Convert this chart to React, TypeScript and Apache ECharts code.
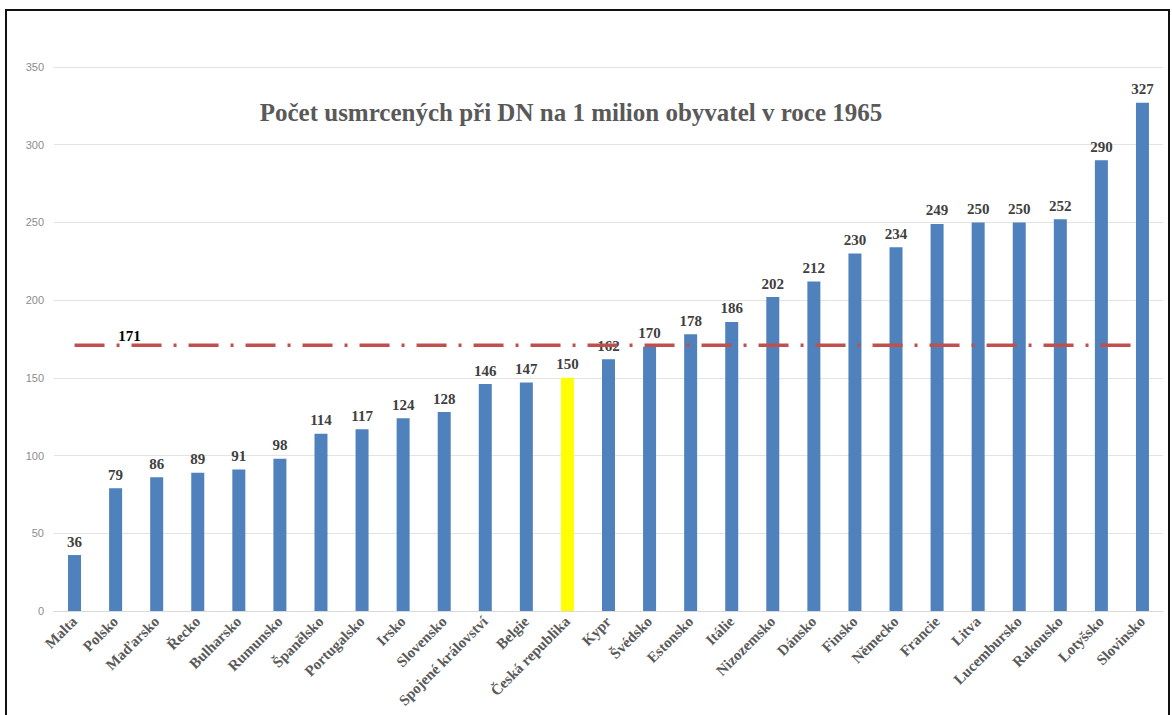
import React, { useEffect, useRef } from "react";
import * as echarts from "echarts";

const categories = [
  "Malta", "Polsko", "Maďarsko", "Řecko", "Bulharsko", "Rumunsko", "Španělsko",
  "Portugalsko", "Irsko", "Slovensko", "Spojené království", "Belgie",
  "Česká republika", "Kypr", "Švédsko", "Estonsko", "Itálie", "Nizozemsko",
  "Dánsko", "Finsko", "Německo", "Francie", "Litva", "Lucembursko", "Rakousko",
  "Lotyšsko", "Slovinsko",
];
const values = [
  36, 79, 86, 89, 91, 98, 114, 117, 124, 128, 146, 147, 150, 162, 170, 178, 186,
  202, 212, 230, 234, 249, 250, 250, 252, 290, 327,
];
const average = 171;
const highlighted = "Česká republika";
const title = "Počet usmrcených při DN na 1 milion obyvatel v roce 1965";

export default function App() {
  const ref = useRef<HTMLDivElement>(null);
  useEffect(() => {
    if (!ref.current) return;
    const chart = echarts.init(ref.current, null, { renderer: "svg" });
    const serif = "'Liberation Serif', 'Times New Roman', serif";
    chart.setOption({
      animation: false,
      backgroundColor: "#ffffff",
      title: {
        text: title,
        left: 566,
        textAlign: "center",
        top: 95,
        textStyle: {
          fontFamily: serif,
          fontSize: 25,
          fontWeight: "bold",
          color: "#595959",
        },
      },
      graphic: [
        {
          type: "rect",
          shape: { x: 6, y: 10, width: 1163, height: 720 },
          style: { fill: "none", stroke: "#111", lineWidth: 2 },
          z: 100,
        },
      ],
      grid: { left: 54, right: 9, top: 67, bottom: 104, containLabel: false },
      xAxis: {
        type: "category",
        data: categories,
        axisTick: { show: false },
        axisLine: { lineStyle: { color: "#d9d9d9", width: 1 } },
        axisLabel: {
          interval: 0,
          rotate: 45,
          margin: 8,
          fontFamily: serif,
          fontSize: 15,
          fontWeight: "bold",
          color: "#595959",
        },
      },
      yAxis: {
        type: "value",
        min: 0,
        max: 350,
        interval: 50,
        axisLine: { show: false },
        axisTick: { show: false },
        splitLine: { lineStyle: { color: "#e3e3e3", width: 1 } },
        axisLabel: {
          margin: 10,
          fontFamily: "'Liberation Sans', Arial, sans-serif",
          fontSize: 11,
          color: "#8c8c8c",
        },
      },
      series: [
        {
          type: "bar",
          barWidth: 13,
          data: values.map((v, i) => ({
            value: v,
            itemStyle: {
              color: categories[i] === highlighted ? "#FFFF00" : "#4F81BD",
            },
          })),
          label: {
            show: true,
            position: "top",
            distance: 6,
            fontFamily: serif,
            fontSize: 15,
            fontWeight: "bold",
            color: "#404040",
          },
          z: 2,
        },
        {
          type: "line",
          data: categories.map(() => average),
          symbol: "none",
          showSymbol: false,
          lineStyle: {
            color: "#C0504D",
            width: 3.5,
            type: [30, 12, 3, 12],
          },
          label: { show: false },
          markPoint: {
            symbol: "circle",
            symbolSize: 0,
            data: [
              {
                coord: [1, average],
                label: {
                  show: true,
                  formatter: String(average),
                  offset: [14, -9],
                  fontFamily: serif,
                  fontSize: 15,
                  fontWeight: "bold",
                  color: "#000000",
                },
              },
            ],
          },
          z: 3,
        },
      ],
    });
    return () => chart.dispose();
  }, []);
  return (
    <div
      ref={ref}
      style={{ position: "fixed", left: 0, top: 0, width: 1172, height: 715 }}
    />
  );
}
